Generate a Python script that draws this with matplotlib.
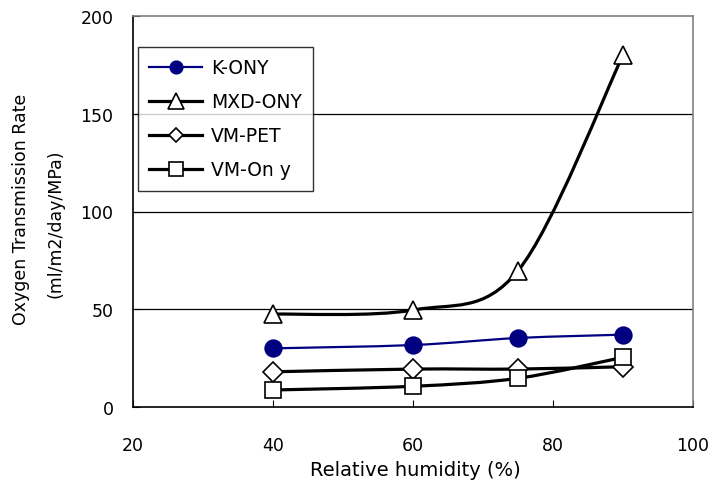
import numpy as np
import matplotlib
matplotlib.use('Agg')
import matplotlib.pyplot as plt
from matplotlib.path import Path
from matplotlib.patches import PathPatch
from matplotlib.lines import Line2D

plt.rcParams['font.family'] = ['DejaVu Sans']

humidity = [40, 60, 75, 90]
k_ony = [30, 31.7, 35.3, 37]
mxd_ony = [47.5, 49.6, 69.7, 180]
vm_pet = [18, 19.4, 19.4, 20.6]
vm_ony = [8.7, 10.6, 14.7, 25.4]

# name, values, colour, line width, marker, face, size on plot, size in legend
series = [
    ('K-ONY', k_ony, '#000080', 1.6, 'o', '#000080', 12, 9),
    ('MXD-ONY', mxd_ony, 'black', 2.3, '^', 'white', 13.5, 11),
    ('VM-PET', vm_pet, 'black', 2.3, 'D', 'white', 10.5, 7.5),
    ('VM-On y', vm_ony, 'black', 2.3, 's', 'white', 12, 10.5),
]


def smooth_path(xs, ys):
    # bezier segments like a spreadsheet "smoothed line"
    pts = np.column_stack([xs, ys]).astype(float)
    n = len(pts)
    verts = [pts[0]]
    codes = [Path.MOVETO]
    for i in range(n - 1):
        p0 = pts[max(i - 1, 0)]
        p1 = pts[i]
        p2 = pts[i + 1]
        p3 = pts[min(i + 2, n - 1)]
        c1 = p1 + (p2 - p0) / 6.0
        c2 = p2 - (p3 - p1) / 6.0
        verts += [c1, c2, p2]
        codes += [Path.CURVE4] * 3
    return Path(verts, codes)


W, H = 725, 481
fig = plt.figure(figsize=(W / 100, H / 100), dpi=100)
ax = fig.add_axes([133 / W, 1 - 408 / H, 560 / W, 391 / H])

handles = []
for name, vals, col, lw, mk, fc, ms, lms in series:
    patch = PathPatch(smooth_path(humidity, vals), facecolor='none',
                      edgecolor=col, lw=lw, zorder=3, capstyle='round')
    ax.add_patch(patch)
    ax.plot(humidity, vals, linestyle='none', marker=mk, markersize=ms,
            markerfacecolor=fc, markeredgecolor=col, markeredgewidth=1.2,
            zorder=4, clip_on=False)
    handles.append(Line2D([], [], color=col, lw=lw, marker=mk, markersize=lms,
                          markerfacecolor=fc, markeredgecolor=col,
                          markeredgewidth=1.2))

ax.set_xlim(20, 100)
ax.set_ylim(0, 200)
ax.set_xticks([20, 40, 60, 80, 100])
ax.set_yticks([0, 50, 100, 150, 200])
for yv in [50, 100, 150]:
    ax.axhline(yv, color='black', lw=0.9, zorder=1)

ax.spines['top'].set_color('#808080')
ax.spines['right'].set_color('#808080')
for s in ['left', 'bottom']:
    ax.spines[s].set_color('black')
for s in ax.spines.values():
    s.set_linewidth(1.2)

ax.tick_params(axis='x', direction='in', length=5, labelsize=12.5, pad=21)
ax.tick_params(axis='y', direction='in', length=5, labelsize=12.5, pad=14)

fig.text(415 / W, 1 - 476 / H, 'Relative humidity (%)', fontsize=14,
         ha='center', va='baseline')
fig.text(21 / W, 1 - 209 / H, 'Oxygen Transmission Rate', fontsize=12.5,
         rotation=90, ha='center', va='center')
fig.text(55 / W, 1 - 224 / H, '(ml/m2/day/MPa)', fontsize=12.5,
         rotation=90, ha='center', va='center')

leg = ax.legend(handles, [s[0] for s in series], loc='upper left',
                bbox_to_anchor=(5 / 560, 1 - 31 / 391), fontsize=13.5,
                frameon=True, fancybox=False, edgecolor='black',
                handlelength=2.8, handletextpad=0.5, labelspacing=0.8,
                borderpad=0.6, borderaxespad=0)
leg.get_frame().set_linewidth(1.0)

fig.savefig('out.png', dpi=100)
